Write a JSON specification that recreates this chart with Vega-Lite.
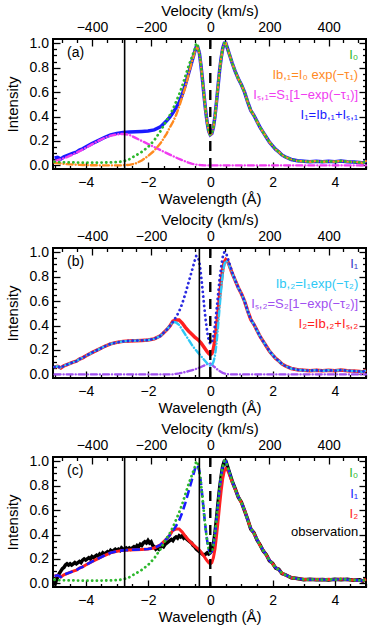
{
"$schema": "https://vega.github.io/schema/vega-lite/v6.json",
"background": "white",
"padding": {"left": 4, "top": 2, "right": 4, "bottom": 2},
"spacing": 4,
"datasets": {
"prof": [
{"w":-5.0,"I0":0.03,"Ib1":0.02,"Is1":0.035,"I1":0.06,"Ib2":0.06,"Is2":0,"I2":0.06},
{"w":-4.9,"I0":0.028,"Ib1":0.018,"Is1":0.042,"I1":0.066,"Ib2":0.066,"Is2":0,"I2":0.066},
{"w":-4.8,"I0":0.026,"Ib1":0.015,"Is1":0.05,"I1":0.052,"Ib2":0.052,"Is2":0,"I2":0.052},
{"w":-4.7,"I0":0.025,"Ib1":0.012,"Is1":0.058,"I1":0.07,"Ib2":0.07,"Is2":0,"I2":0.07},
{"w":-4.6,"I0":0.025,"Ib1":0.01,"Is1":0.068,"I1":0.08,"Ib2":0.08,"Is2":0,"I2":0.08},
{"w":-4.5,"I0":0.024,"Ib1":0.008,"Is1":0.079,"I1":0.09,"Ib2":0.09,"Is2":0,"I2":0.09},
{"w":-4.4,"I0":0.024,"Ib1":0.007,"Is1":0.09,"I1":0.1,"Ib2":0.1,"Is2":0,"I2":0.1},
{"w":-4.3,"I0":0.023,"Ib1":0.005,"Is1":0.103,"I1":0.108,"Ib2":0.108,"Is2":0,"I2":0.108},
{"w":-4.2,"I0":0.023,"Ib1":0.004,"Is1":0.116,"I1":0.125,"Ib2":0.125,"Is2":0,"I2":0.125},
{"w":-4.1,"I0":0.022,"Ib1":0.003,"Is1":0.13,"I1":0.135,"Ib2":0.135,"Is2":0,"I2":0.135},
{"w":-4.0,"I0":0.022,"Ib1":0.002,"Is1":0.143,"I1":0.15,"Ib2":0.15,"Is2":0,"I2":0.15},
{"w":-3.8,"I0":0.022,"Ib1":0.001,"Is1":0.172,"I1":0.178,"Ib2":0.178,"Is2":0,"I2":0.178},
{"w":-3.6,"I0":0.022,"Ib1":0,"Is1":0.2,"I1":0.203,"Ib2":0.203,"Is2":0,"I2":0.203},
{"w":-3.4,"I0":0.023,"Ib1":0,"Is1":0.224,"I1":0.228,"Ib2":0.228,"Is2":0,"I2":0.228},
{"w":-3.2,"I0":0.024,"Ib1":0,"Is1":0.243,"I1":0.25,"Ib2":0.25,"Is2":0,"I2":0.25},
{"w":-3.0,"I0":0.026,"Ib1":0,"Is1":0.253,"I1":0.262,"Ib2":0.262,"Is2":0,"I2":0.262},
{"w":-2.8,"I0":0.032,"Ib1":0,"Is1":0.258,"I1":0.27,"Ib2":0.27,"Is2":0,"I2":0.27},
{"w":-2.6,"I0":0.05,"Ib1":0.004,"Is1":0.25,"I1":0.274,"Ib2":0.274,"Is2":0,"I2":0.274},
{"w":-2.4,"I0":0.08,"Ib1":0.015,"Is1":0.225,"I1":0.276,"Ib2":0.276,"Is2":0,"I2":0.276},
{"w":-2.2,"I0":0.11,"Ib1":0.04,"Is1":0.2,"I1":0.278,"Ib2":0.278,"Is2":0,"I2":0.278},
{"w":-2.0,"I0":0.15,"Ib1":0.075,"Is1":0.175,"I1":0.281,"Ib2":0.281,"Is2":0,"I2":0.281},
{"w":-1.8,"I0":0.205,"Ib1":0.12,"Is1":0.15,"I1":0.29,"Ib2":0.29,"Is2":0,"I2":0.29},
{"w":-1.6,"I0":0.28,"Ib1":0.18,"Is1":0.125,"I1":0.315,"Ib2":0.315,"Is2":0,"I2":0.315},
{"w":-1.4,"I0":0.37,"Ib1":0.26,"Is1":0.1,"I1":0.365,"Ib2":0.365,"Is2":0,"I2":0.365},
{"w":-1.3,"I0":0.41,"Ib1":0.31,"Is1":0.088,"I1":0.395,"Ib2":0.395,"Is2":0,"I2":0.395},
{"w":-1.2,"I0":0.46,"Ib1":0.355,"Is1":0.076,"I1":0.43,"Ib2":0.43,"Is2":0,"I2":0.435},
{"w":-1.1,"I0":0.52,"Ib1":0.41,"Is1":0.064,"I1":0.47,"Ib2":0.425,"Is2":0.004,"I2":0.445},
{"w":-1.0,"I0":0.58,"Ib1":0.48,"Is1":0.052,"I1":0.515,"Ib2":0.405,"Is2":0.008,"I2":0.445},
{"w":-0.9,"I0":0.65,"Ib1":0.56,"Is1":0.042,"I1":0.58,"Ib2":0.365,"Is2":0.013,"I2":0.42},
{"w":-0.8,"I0":0.73,"Ib1":0.64,"Is1":0.032,"I1":0.66,"Ib2":0.325,"Is2":0.019,"I2":0.385},
{"w":-0.7,"I0":0.81,"Ib1":0.74,"Is1":0.022,"I1":0.75,"Ib2":0.285,"Is2":0.026,"I2":0.355},
{"w":-0.6,"I0":0.88,"Ib1":0.84,"Is1":0.014,"I1":0.84,"Ib2":0.245,"Is2":0.033,"I2":0.33},
{"w":-0.5,"I0":0.95,"Ib1":0.93,"Is1":0.008,"I1":0.93,"Ib2":0.21,"Is2":0.04,"I2":0.305},
{"w":-0.45,"I0":1.0,"Ib1":0.97,"Is1":0.006,"I1":0.97,"Ib2":0.195,"Is2":0.045,"I2":0.295},
{"w":-0.4,"I0":0.98,"Ib1":0.96,"Is1":0.004,"I1":0.965,"Ib2":0.18,"Is2":0.05,"I2":0.285},
{"w":-0.35,"I0":0.92,"Ib1":0.92,"Is1":0.003,"I1":0.92,"Ib2":0.165,"Is2":0.055,"I2":0.272},
{"w":-0.3,"I0":0.82,"Ib1":0.82,"Is1":0.002,"I1":0.82,"Ib2":0.15,"Is2":0.06,"I2":0.258},
{"w":-0.25,"I0":0.7,"Ib1":0.7,"Is1":0.001,"I1":0.7,"Ib2":0.135,"Is2":0.066,"I2":0.24},
{"w":-0.2,"I0":0.57,"Ib1":0.57,"Is1":0,"I1":0.57,"Ib2":0.12,"Is2":0.072,"I2":0.222},
{"w":-0.15,"I0":0.45,"Ib1":0.45,"Is1":0,"I1":0.45,"Ib2":0.105,"Is2":0.078,"I2":0.203},
{"w":-0.1,"I0":0.35,"Ib1":0.35,"Is1":0,"I1":0.35,"Ib2":0.09,"Is2":0.083,"I2":0.185},
{"w":-0.05,"I0":0.28,"Ib1":0.28,"Is1":0,"I1":0.28,"Ib2":0.078,"Is2":0.087,"I2":0.17},
{"w":0,"I0":0.25,"Ib1":0.25,"Is1":0,"I1":0.25,"Ib2":0.07,"Is2":0.088,"I2":0.16},
{"w":0.05,"I0":0.26,"Ib1":0.26,"Is1":0,"I1":0.26,"Ib2":0.075,"Is2":0.08,"I2":0.17},
{"w":0.1,"I0":0.31,"Ib1":0.31,"Is1":0,"I1":0.31,"Ib2":0.1,"Is2":0.068,"I2":0.21},
{"w":0.15,"I0":0.4,"Ib1":0.4,"Is1":0,"I1":0.4,"Ib2":0.15,"Is2":0.057,"I2":0.28},
{"w":0.2,"I0":0.52,"Ib1":0.52,"Is1":0,"I1":0.52,"Ib2":0.25,"Is2":0.046,"I2":0.39},
{"w":0.25,"I0":0.65,"Ib1":0.65,"Is1":0,"I1":0.65,"Ib2":0.39,"Is2":0.036,"I2":0.51},
{"w":0.3,"I0":0.78,"Ib1":0.78,"Is1":0,"I1":0.78,"Ib2":0.55,"Is2":0.027,"I2":0.64},
{"w":0.35,"I0":0.88,"Ib1":0.88,"Is1":0,"I1":0.88,"Ib2":0.7,"Is2":0.019,"I2":0.76},
{"w":0.4,"I0":0.96,"Ib1":0.96,"Is1":0,"I1":0.96,"Ib2":0.82,"Is2":0.012,"I2":0.86},
{"w":0.45,"I0":1.0,"Ib1":1.0,"Is1":0,"I1":1.0,"Ib2":0.9,"Is2":0.007,"I2":0.92},
{"w":0.5,"I0":1.0,"Ib1":1.0,"Is1":0,"I1":1.0,"Ib2":0.93,"Is2":0.003,"I2":0.94},
{"w":0.55,"I0":0.96,"Ib1":0.96,"Is1":0,"I1":0.96,"Ib2":0.925,"Is2":0.001,"I2":0.93},
{"w":0.6,"I0":0.92,"Ib1":0.92,"Is1":0,"I1":0.92,"Ib2":0.9,"Is2":0,"I2":0.9},
{"w":0.7,"I0":0.84,"Ib1":0.84,"Is1":0,"I1":0.84,"Ib2":0.83,"Is2":0,"I2":0.83},
{"w":0.8,"I0":0.77,"Ib1":0.77,"Is1":0,"I1":0.77,"Ib2":0.77,"Is2":0,"I2":0.77},
{"w":0.9,"I0":0.71,"Ib1":0.71,"Is1":0,"I1":0.71,"Ib2":0.71,"Is2":0,"I2":0.71},
{"w":1.0,"I0":0.66,"Ib1":0.66,"Is1":0,"I1":0.66,"Ib2":0.66,"Is2":0,"I2":0.66},
{"w":1.1,"I0":0.6,"Ib1":0.6,"Is1":0,"I1":0.6,"Ib2":0.6,"Is2":0,"I2":0.6},
{"w":1.2,"I0":0.52,"Ib1":0.52,"Is1":0,"I1":0.52,"Ib2":0.52,"Is2":0,"I2":0.52},
{"w":1.3,"I0":0.45,"Ib1":0.45,"Is1":0,"I1":0.45,"Ib2":0.45,"Is2":0,"I2":0.45},
{"w":1.4,"I0":0.41,"Ib1":0.41,"Is1":0,"I1":0.41,"Ib2":0.41,"Is2":0,"I2":0.41},
{"w":1.5,"I0":0.36,"Ib1":0.36,"Is1":0,"I1":0.36,"Ib2":0.36,"Is2":0,"I2":0.36},
{"w":1.6,"I0":0.31,"Ib1":0.31,"Is1":0,"I1":0.31,"Ib2":0.31,"Is2":0,"I2":0.31},
{"w":1.7,"I0":0.27,"Ib1":0.27,"Is1":0,"I1":0.27,"Ib2":0.27,"Is2":0,"I2":0.27},
{"w":1.8,"I0":0.23,"Ib1":0.23,"Is1":0,"I1":0.23,"Ib2":0.23,"Is2":0,"I2":0.23},
{"w":1.9,"I0":0.19,"Ib1":0.19,"Is1":0,"I1":0.19,"Ib2":0.19,"Is2":0,"I2":0.19},
{"w":2.0,"I0":0.16,"Ib1":0.16,"Is1":0,"I1":0.16,"Ib2":0.16,"Is2":0,"I2":0.16},
{"w":2.1,"I0":0.13,"Ib1":0.13,"Is1":0,"I1":0.13,"Ib2":0.13,"Is2":0,"I2":0.13},
{"w":2.2,"I0":0.11,"Ib1":0.11,"Is1":0,"I1":0.11,"Ib2":0.11,"Is2":0,"I2":0.11},
{"w":2.3,"I0":0.085,"Ib1":0.085,"Is1":0,"I1":0.085,"Ib2":0.085,"Is2":0,"I2":0.085},
{"w":2.4,"I0":0.07,"Ib1":0.07,"Is1":0,"I1":0.07,"Ib2":0.07,"Is2":0,"I2":0.07},
{"w":2.6,"I0":0.048,"Ib1":0.048,"Is1":0,"I1":0.048,"Ib2":0.048,"Is2":0,"I2":0.048},
{"w":2.8,"I0":0.037,"Ib1":0.037,"Is1":0,"I1":0.037,"Ib2":0.037,"Is2":0,"I2":0.037},
{"w":3.0,"I0":0.033,"Ib1":0.033,"Is1":0,"I1":0.033,"Ib2":0.033,"Is2":0,"I2":0.033},
{"w":3.2,"I0":0.03,"Ib1":0.03,"Is1":0,"I1":0.03,"Ib2":0.03,"Is2":0,"I2":0.03},
{"w":3.4,"I0":0.034,"Ib1":0.034,"Is1":0,"I1":0.034,"Ib2":0.034,"Is2":0,"I2":0.034},
{"w":3.6,"I0":0.029,"Ib1":0.029,"Is1":0,"I1":0.029,"Ib2":0.029,"Is2":0,"I2":0.029},
{"w":3.8,"I0":0.033,"Ib1":0.033,"Is1":0,"I1":0.033,"Ib2":0.033,"Is2":0,"I2":0.033},
{"w":4.0,"I0":0.03,"Ib1":0.03,"Is1":0,"I1":0.03,"Ib2":0.03,"Is2":0,"I2":0.03},
{"w":4.2,"I0":0.036,"Ib1":0.036,"Is1":0,"I1":0.036,"Ib2":0.036,"Is2":0,"I2":0.036},
{"w":4.4,"I0":0.03,"Ib1":0.03,"Is1":0,"I1":0.03,"Ib2":0.03,"Is2":0,"I2":0.03},
{"w":4.6,"I0":0.027,"Ib1":0.027,"Is1":0,"I1":0.027,"Ib2":0.027,"Is2":0,"I2":0.027},
{"w":4.8,"I0":0.024,"Ib1":0.024,"Is1":0,"I1":0.024,"Ib2":0.024,"Is2":0,"I2":0.024},
{"w":4.9,"I0":0.02,"Ib1":0.02,"Is1":0,"I1":0.02,"Ib2":0.02,"Is2":0,"I2":0.02},
{"w":5.0,"I0":0.036,"Ib1":0.036,"Is1":0,"I1":0.036,"Ib2":0.036,"Is2":0,"I2":0.036}
],
"obs": [
{"w":-5.0,"o":-0.02},{"w":-4.95,"o":0.02},{"w":-4.9,"o":0.05},{"w":-4.85,"o":0.08},{"w":-4.8,"o":0.1},{"w":-4.75,"o":0.12},{"w":-4.7,"o":0.13},{"w":-4.65,"o":0.15},{"w":-4.6,"o":0.16},{"w":-4.55,"o":0.15},{"w":-4.5,"o":0.16},{"w":-4.45,"o":0.15},{"w":-4.4,"o":0.16},{"w":-4.35,"o":0.17},{"w":-4.3,"o":0.16},{"w":-4.25,"o":0.17},{"w":-4.2,"o":0.18},{"w":-4.15,"o":0.17},{"w":-4.1,"o":0.19},{"w":-4.05,"o":0.2},{"w":-4.0,"o":0.19},{"w":-3.95,"o":0.2},{"w":-3.9,"o":0.21},{"w":-3.85,"o":0.2},{"w":-3.8,"o":0.22},{"w":-3.75,"o":0.21},{"w":-3.7,"o":0.22},{"w":-3.65,"o":0.23},{"w":-3.6,"o":0.22},{"w":-3.55,"o":0.24},{"w":-3.5,"o":0.23},{"w":-3.45,"o":0.25},{"w":-3.4,"o":0.24},{"w":-3.35,"o":0.25},{"w":-3.3,"o":0.26},{"w":-3.25,"o":0.25},{"w":-3.2,"o":0.27},{"w":-3.15,"o":0.26},{"w":-3.1,"o":0.27},{"w":-3.05,"o":0.28},{"w":-3.0,"o":0.27},{"w":-2.95,"o":0.28},{"w":-2.9,"o":0.27},{"w":-2.85,"o":0.29},{"w":-2.8,"o":0.28},{"w":-2.75,"o":0.28},{"w":-2.7,"o":0.29},{"w":-2.65,"o":0.28},{"w":-2.6,"o":0.29},{"w":-2.55,"o":0.28},{"w":-2.5,"o":0.29},{"w":-2.45,"o":0.3},{"w":-2.4,"o":0.29},{"w":-2.35,"o":0.31},{"w":-2.3,"o":0.3},{"w":-2.25,"o":0.32},{"w":-2.2,"o":0.31},{"w":-2.15,"o":0.33},{"w":-2.1,"o":0.34},{"w":-2.05,"o":0.33},{"w":-2.0,"o":0.35},{"w":-1.95,"o":0.33},{"w":-1.9,"o":0.34},{"w":-1.85,"o":0.31},{"w":-1.8,"o":0.3},{"w":-1.75,"o":0.28},{"w":-1.7,"o":0.29},{"w":-1.65,"o":0.28},{"w":-1.6,"o":0.3},{"w":-1.55,"o":0.31},{"w":-1.5,"o":0.3},{"w":-1.45,"o":0.32},{"w":-1.4,"o":0.33},{"w":-1.35,"o":0.34},{"w":-1.3,"o":0.35},{"w":-1.25,"o":0.36},{"w":-1.2,"o":0.35},{"w":-1.15,"o":0.37},{"w":-1.1,"o":0.38},{"w":-1.05,"o":0.37},{"w":-1.0,"o":0.39},{"w":-0.95,"o":0.38},{"w":-0.9,"o":0.39},{"w":-0.85,"o":0.37},{"w":-0.8,"o":0.38},{"w":-0.75,"o":0.36},{"w":-0.7,"o":0.35},{"w":-0.65,"o":0.34},{"w":-0.6,"o":0.33},{"w":-0.55,"o":0.31},{"w":-0.5,"o":0.3},{"w":-0.45,"o":0.28},{"w":-0.4,"o":0.27},{"w":-0.35,"o":0.26},{"w":-0.3,"o":0.25},{"w":-0.25,"o":0.24},{"w":-0.2,"o":0.23},{"w":-0.15,"o":0.24},{"w":-0.1,"o":0.25},{"w":-0.05,"o":0.24},{"w":0,"o":0.25},{"w":0.05,"o":0.27},{"w":0.1,"o":0.32},{"w":0.15,"o":0.41},{"w":0.2,"o":0.53},{"w":0.25,"o":0.66},{"w":0.3,"o":0.78},{"w":0.35,"o":0.88},{"w":0.4,"o":0.96},{"w":0.45,"o":1.0},{"w":0.5,"o":1.0},{"w":0.55,"o":0.96},{"w":0.6,"o":0.92},{"w":0.7,"o":0.84},{"w":0.8,"o":0.775},{"w":0.9,"o":0.705},{"w":1.0,"o":0.665},{"w":1.1,"o":0.595},{"w":1.2,"o":0.525},{"w":1.3,"o":0.445},{"w":1.4,"o":0.415},{"w":1.5,"o":0.355},{"w":1.6,"o":0.315},{"w":1.7,"o":0.265},{"w":1.8,"o":0.235},{"w":1.9,"o":0.185},{"w":2.0,"o":0.165},{"w":2.1,"o":0.125},{"w":2.2,"o":0.115},{"w":2.3,"o":0.08},{"w":2.4,"o":0.072},{"w":2.6,"o":0.045},{"w":2.8,"o":0.04},{"w":3.0,"o":0.03},{"w":3.2,"o":0.033},{"w":3.4,"o":0.03},{"w":3.6,"o":0.032},{"w":3.8,"o":0.028},{"w":4.0,"o":0.034},{"w":4.2,"o":0.03},{"w":4.4,"o":0.033},{"w":4.6,"o":0.025},{"w":4.8,"o":0.03},{"w":4.9,"o":0.018},{"w":5.0,"o":0.035}
],
"vl": [
{"p":"a","k":"solid","w":-2.75},{"p":"a","k":"dash","w":0},
{"p":"b","k":"solid","w":-0.35},{"p":"b","k":"dash","w":0},
{"p":"c","k":"solid","w":-2.75},{"p":"c","k":"solid","w":-0.35},{"p":"c","k":"dash","w":0}
],
"leg": [
{"p":"a","k":"I0","t":"I₀","w":4.75,"y":0.9},
{"p":"a","k":"Ib1","t":"Ib,₁=I₀ exp(−τ₁)","w":4.75,"y":0.74},
{"p":"a","k":"Is1","t":"Iₛ,₁=S₁[1−exp(−τ₁)]","w":4.75,"y":0.58},
{"p":"a","k":"I1","t":"I₁=Ib,₁+Iₛ,₁","w":4.75,"y":0.41},
{"p":"b","k":"I1b","t":"I₁","w":4.75,"y":0.9},
{"p":"b","k":"Ib2","t":"Ib,₂=I₁exp(−τ₂)","w":4.75,"y":0.74},
{"p":"b","k":"Is2","t":"Iₛ,₂=S₂[1−exp(−τ₂)]","w":4.75,"y":0.58},
{"p":"b","k":"I2","t":"I₂=Ib,₂+Iₛ,₂","w":4.75,"y":0.41},
{"p":"c","k":"I0","t":"I₀","w":4.75,"y":0.9},
{"p":"c","k":"I1","t":"I₁","w":4.75,"y":0.73},
{"p":"c","k":"I2","t":"I₂","w":4.75,"y":0.57},
{"p":"c","k":"obs","t":"observation","w":4.75,"y":0.42}
],
"plab": [
{"p":"a","t":"(a)","w":-4.6,"y":0.92},
{"p":"b","t":"(b)","w":-4.6,"y":0.92},
{"p":"c","t":"(c)","w":-4.6,"y":0.92}
]
},
"vconcat": [
{
"width": 313, "height": 130,
"layer": [
{"data":{"name":"prof"},"mark":{"type":"line","color":"#1a1aff","strokeWidth":3.5},
 "encoding":{"x":{"field":"w","type":"quantitative","scale":{"domain":[-5.05,5],"nice":false,"zero":false},"axis":{"orient":"bottom","values":[-4,-2,0,2,4],"format":"d","tickSize":-7,"labelPadding":13,"title":"Wavelength (Å)","titlePadding":2,"labelFlush":false}},
 "y":{"field":"I1","type":"quantitative","scale":{"domain":[-0.03,1.035],"nice":false,"zero":false},"axis":{"orient":"left","values":[0,0.2,0.4,0.6,0.8,1],"format":".1f","tickSize":-7,"labelPadding":11.5,"title":"Intensity","titlePadding":9}}}},
{"data":{"name":"prof"},"mark":{"type":"line","color":"#f03cf0","strokeWidth":2.4,"strokeDash":[6,3,0.1,3],"strokeCap":"round"},
 "encoding":{"x":{"field":"w","type":"quantitative","axis":{"orient":"top","values":[-3.8,-1.9,0,1.9,3.8],"labelExpr":"format(round(datum.value/0.0095),'d')","tickSize":-7,"labelPadding":12,"title":"Velocity (km/s)","titlePadding":2,"labelFlush":false}},
 "y":{"field":"Is1","type":"quantitative","axis":{"orient":"right","values":[0,0.2,0.4,0.6,0.8,1],"labels":false,"tickSize":-7,"title":null}}}},
{"data":{"name":"prof"},"mark":{"type":"line","color":"#ff8a1f","strokeWidth":2.4,"strokeDash":[6,3,0.1,3],"strokeCap":"round"},
 "encoding":{"x":{"field":"w","type":"quantitative","axis":{"orient":"bottom","values":[-5,-4.5,-3.5,-3,-2.5,-1.5,-1,-0.5,0.5,1,1.5,2.5,3,3.5,4.5,5],"labels":false,"tickSize":-3.5,"title":null}},
 "y":{"field":"Ib1","type":"quantitative","axis":{"orient":"left","values":[0.05,0.1,0.15,0.25,0.3,0.35,0.45,0.5,0.55,0.65,0.7,0.75,0.85,0.9,0.95],"labels":false,"tickSize":-3.5,"title":null}}}},
{"data":{"name":"prof"},"mark":{"type":"line","color":"#2db82d","strokeWidth":2.8,"strokeDash":[0.1,4.6],"strokeCap":"round"},
 "encoding":{"x":{"field":"w","type":"quantitative","axis":{"orient":"top","values":[-4.75,-4.275,-3.325,-2.85,-2.375,-1.425,-0.95,-0.475,0.475,0.95,1.425,2.375,2.85,3.325,4.275,4.75],"labels":false,"tickSize":-3.5,"title":null}},
 "y":{"field":"I0","type":"quantitative","axis":{"orient":"right","values":[0.05,0.1,0.15,0.25,0.3,0.35,0.45,0.5,0.55,0.65,0.7,0.75,0.85,0.9,0.95],"labels":false,"tickSize":-3.5,"title":null}}}},
{"data":{"name":"vl"},"transform":[{"filter":"datum.p=='a' && datum.k=='solid'"}],"mark":{"type":"rule","color":"black","strokeWidth":1.6},"encoding":{"x":{"field":"w","type":"quantitative","axis":null}}},
{"data":{"name":"vl"},"transform":[{"filter":"datum.p=='a' && datum.k=='dash'"}],"mark":{"type":"rule","color":"black","strokeWidth":2.4,"strokeDash":[10,7]},"encoding":{"x":{"field":"w","type":"quantitative","axis":null}}},
{"data":{"name":"leg"},"transform":[{"filter":"datum.p=='a'"}],"mark":{"type":"text","align":"right","baseline":"middle","fontSize":13},
 "encoding":{"x":{"field":"w","type":"quantitative","axis":null},"y":{"field":"y","type":"quantitative","axis":null},"text":{"field":"t","type":"nominal"},
 "color":{"field":"k","type":"nominal","legend":null,"scale":{"domain":["I0","Ib1","Is1","I1","I1b","Ib2","Is2","I2","obs"],"range":["#2db82d","#ff8a1f","#f03cf0","#1a1aff","#3535c8","#2ec8f5","#a050f0","#ff2020","#000000"]}}}},
{"data":{"name":"plab"},"transform":[{"filter":"datum.p=='a'"}],"mark":{"type":"text","align":"left","baseline":"middle","fontSize":14,"color":"black"},
 "encoding":{"x":{"field":"w","type":"quantitative","axis":null},"y":{"field":"y","type":"quantitative","axis":null},"text":{"field":"t","type":"nominal"}}}
],
"resolve":{"axis":{"x":"independent","y":"independent"}}
},
{
"width": 313, "height": 130,
"layer": [
{"data":{"name":"prof"},"mark":{"type":"line","color":"#ff2020","strokeWidth":3.5},
 "encoding":{"x":{"field":"w","type":"quantitative","scale":{"domain":[-5.05,5],"nice":false,"zero":false},"axis":{"orient":"bottom","values":[-4,-2,0,2,4],"format":"d","tickSize":-7,"labelPadding":13,"title":"Wavelength (Å)","titlePadding":2,"labelFlush":false}},
 "y":{"field":"I2","type":"quantitative","scale":{"domain":[-0.03,1.035],"nice":false,"zero":false},"axis":{"orient":"left","values":[0,0.2,0.4,0.6,0.8,1],"format":".1f","tickSize":-7,"labelPadding":11.5,"title":"Intensity","titlePadding":9}}}},
{"data":{"name":"prof"},"mark":{"type":"line","color":"#a050f0","strokeWidth":2.4,"strokeDash":[6,3,0.1,3],"strokeCap":"round"},
 "encoding":{"x":{"field":"w","type":"quantitative","axis":{"orient":"top","values":[-3.8,-1.9,0,1.9,3.8],"labelExpr":"format(round(datum.value/0.0095),'d')","tickSize":-7,"labelPadding":12,"title":"Velocity (km/s)","titlePadding":2,"labelFlush":false}},
 "y":{"field":"Is2","type":"quantitative","axis":{"orient":"right","values":[0,0.2,0.4,0.6,0.8,1],"labels":false,"tickSize":-7,"title":null}}}},
{"data":{"name":"prof"},"mark":{"type":"line","color":"#2ec8f5","strokeWidth":2.4,"strokeDash":[6,3,0.1,3],"strokeCap":"round"},
 "encoding":{"x":{"field":"w","type":"quantitative","axis":{"orient":"bottom","values":[-5,-4.5,-3.5,-3,-2.5,-1.5,-1,-0.5,0.5,1,1.5,2.5,3,3.5,4.5,5],"labels":false,"tickSize":-3.5,"title":null}},
 "y":{"field":"Ib2","type":"quantitative","axis":{"orient":"left","values":[0.05,0.1,0.15,0.25,0.3,0.35,0.45,0.5,0.55,0.65,0.7,0.75,0.85,0.9,0.95],"labels":false,"tickSize":-3.5,"title":null}}}},
{"data":{"name":"prof"},"mark":{"type":"line","color":"#2a2ae0","strokeWidth":2.8,"strokeDash":[0.1,4.6],"strokeCap":"round"},
 "encoding":{"x":{"field":"w","type":"quantitative","axis":{"orient":"top","values":[-4.75,-4.275,-3.325,-2.85,-2.375,-1.425,-0.95,-0.475,0.475,0.95,1.425,2.375,2.85,3.325,4.275,4.75],"labels":false,"tickSize":-3.5,"title":null}},
 "y":{"field":"I1","type":"quantitative","axis":{"orient":"right","values":[0.05,0.1,0.15,0.25,0.3,0.35,0.45,0.5,0.55,0.65,0.7,0.75,0.85,0.9,0.95],"labels":false,"tickSize":-3.5,"title":null}}}},
{"data":{"name":"vl"},"transform":[{"filter":"datum.p=='b' && datum.k=='solid'"}],"mark":{"type":"rule","color":"black","strokeWidth":1.6},"encoding":{"x":{"field":"w","type":"quantitative","axis":null}}},
{"data":{"name":"vl"},"transform":[{"filter":"datum.p=='b' && datum.k=='dash'"}],"mark":{"type":"rule","color":"black","strokeWidth":2.4,"strokeDash":[10,7]},"encoding":{"x":{"field":"w","type":"quantitative","axis":null}}},
{"data":{"name":"leg"},"transform":[{"filter":"datum.p=='b'"}],"mark":{"type":"text","align":"right","baseline":"middle","fontSize":13},
 "encoding":{"x":{"field":"w","type":"quantitative","axis":null},"y":{"field":"y","type":"quantitative","axis":null},"text":{"field":"t","type":"nominal"},
 "color":{"field":"k","type":"nominal","legend":null,"scale":{"domain":["I0","Ib1","Is1","I1","I1b","Ib2","Is2","I2","obs"],"range":["#2db82d","#ff8a1f","#f03cf0","#1a1aff","#3535c8","#2ec8f5","#a050f0","#ff2020","#000000"]}}}},
{"data":{"name":"plab"},"transform":[{"filter":"datum.p=='b'"}],"mark":{"type":"text","align":"left","baseline":"middle","fontSize":14,"color":"black"},
 "encoding":{"x":{"field":"w","type":"quantitative","axis":null},"y":{"field":"y","type":"quantitative","axis":null},"text":{"field":"t","type":"nominal"}}}
],
"resolve":{"axis":{"x":"independent","y":"independent"}}
},
{
"width": 313, "height": 130,
"layer": [
{"data":{"name":"obs"},"mark":{"type":"line","color":"black","strokeWidth":3.5},
 "encoding":{"x":{"field":"w","type":"quantitative","scale":{"domain":[-5.05,5],"nice":false,"zero":false},"axis":{"orient":"bottom","values":[-4,-2,0,2,4],"format":"d","tickSize":-7,"labelPadding":13,"title":"Wavelength (Å)","titlePadding":2,"labelFlush":false}},
 "y":{"field":"o","type":"quantitative","scale":{"domain":[-0.03,1.035],"nice":false,"zero":false},"axis":{"orient":"left","values":[0,0.2,0.4,0.6,0.8,1],"format":".1f","tickSize":-7,"labelPadding":11.5,"title":"Intensity","titlePadding":9}}}},
{"data":{"name":"prof"},"mark":{"type":"line","color":"#ff2020","strokeWidth":3},
 "encoding":{"x":{"field":"w","type":"quantitative","axis":{"orient":"top","values":[-3.8,-1.9,0,1.9,3.8],"labelExpr":"format(round(datum.value/0.0095),'d')","tickSize":-7,"labelPadding":12,"title":"Velocity (km/s)","titlePadding":2,"labelFlush":false}},
 "y":{"field":"I2","type":"quantitative","axis":{"orient":"right","values":[0,0.2,0.4,0.6,0.8,1],"labels":false,"tickSize":-7,"title":null}}}},
{"data":{"name":"prof"},"mark":{"type":"line","color":"#1a1aff","strokeWidth":2.6,"strokeDash":[8,4]},
 "encoding":{"x":{"field":"w","type":"quantitative","axis":{"orient":"bottom","values":[-5,-4.5,-3.5,-3,-2.5,-1.5,-1,-0.5,0.5,1,1.5,2.5,3,3.5,4.5,5],"labels":false,"tickSize":-3.5,"title":null}},
 "y":{"field":"I1","type":"quantitative","axis":{"orient":"left","values":[0.05,0.1,0.15,0.25,0.3,0.35,0.45,0.5,0.55,0.65,0.7,0.75,0.85,0.9,0.95],"labels":false,"tickSize":-3.5,"title":null}}}},
{"data":{"name":"prof"},"mark":{"type":"line","color":"#2db82d","strokeWidth":2.8,"strokeDash":[0.1,4.6],"strokeCap":"round"},
 "encoding":{"x":{"field":"w","type":"quantitative","axis":{"orient":"top","values":[-4.75,-4.275,-3.325,-2.85,-2.375,-1.425,-0.95,-0.475,0.475,0.95,1.425,2.375,2.85,3.325,4.275,4.75],"labels":false,"tickSize":-3.5,"title":null}},
 "y":{"field":"I0","type":"quantitative","axis":{"orient":"right","values":[0.05,0.1,0.15,0.25,0.3,0.35,0.45,0.5,0.55,0.65,0.7,0.75,0.85,0.9,0.95],"labels":false,"tickSize":-3.5,"title":null}}}},
{"data":{"name":"vl"},"transform":[{"filter":"datum.p=='c' && datum.k=='solid'"}],"mark":{"type":"rule","color":"black","strokeWidth":1.6},"encoding":{"x":{"field":"w","type":"quantitative","axis":null}}},
{"data":{"name":"vl"},"transform":[{"filter":"datum.p=='c' && datum.k=='dash'"}],"mark":{"type":"rule","color":"black","strokeWidth":2.4,"strokeDash":[10,7]},"encoding":{"x":{"field":"w","type":"quantitative","axis":null}}},
{"data":{"name":"leg"},"transform":[{"filter":"datum.p=='c'"}],"mark":{"type":"text","align":"right","baseline":"middle","fontSize":13},
 "encoding":{"x":{"field":"w","type":"quantitative","axis":null},"y":{"field":"y","type":"quantitative","axis":null},"text":{"field":"t","type":"nominal"},
 "color":{"field":"k","type":"nominal","legend":null,"scale":{"domain":["I0","Ib1","Is1","I1","I1b","Ib2","Is2","I2","obs"],"range":["#2db82d","#ff8a1f","#f03cf0","#1a1aff","#3535c8","#2ec8f5","#a050f0","#ff2020","#000000"]}}}},
{"data":{"name":"plab"},"transform":[{"filter":"datum.p=='c'"}],"mark":{"type":"text","align":"left","baseline":"middle","fontSize":14,"color":"black"},
 "encoding":{"x":{"field":"w","type":"quantitative","axis":null},"y":{"field":"y","type":"quantitative","axis":null},"text":{"field":"t","type":"nominal"}}}
],
"resolve":{"axis":{"x":"independent","y":"independent"}}
}
],
"config": {
"font": "Liberation Sans",
"view": {"stroke": "black", "strokeWidth": 2},
"axis": {"domain": false, "grid": false, "labelFontSize": 14, "labelColor": "black", "titleFontSize": 15, "titleFontWeight": "normal", "titleColor": "black", "tickColor": "black", "tickWidth": 1.3}
}
}
